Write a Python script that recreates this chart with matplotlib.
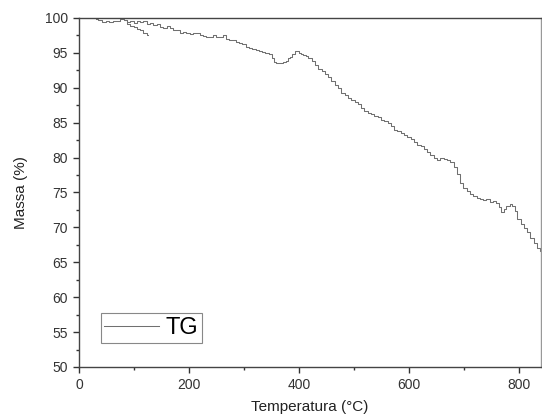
import numpy as np
import matplotlib
matplotlib.use('Agg')
import matplotlib.pyplot as plt
from matplotlib.ticker import MultipleLocator

plt.rcParams['font.family'] = ['Liberation Sans', 'DejaVu Sans']

# TG curve
temp = [30, 38, 45, 52, 58, 65, 72, 78, 84, 90, 96, 102, 108, 114, 120, 126,
        132, 138, 144, 150, 156, 162, 168, 174, 180, 186, 192, 198, 204, 210,
        216, 222, 228, 234, 240, 246, 252, 258, 264, 270, 276, 282, 288, 294,
        300, 306, 312, 318, 324, 330, 336, 342, 348, 352, 356, 362, 368, 374,
        378, 382, 386, 390, 394, 398, 402, 406, 410, 414, 420, 426, 432, 438,
        444, 450, 456, 462, 468, 474, 480, 486, 492, 498, 504, 510, 516, 522,
        528, 534, 540, 546, 552, 558, 564, 570, 576, 582, 588, 594, 600, 606,
        612, 618, 624, 630, 636, 642, 648, 654, 660, 666, 672, 678, 684, 690,
        696, 702, 708, 714, 720, 726, 732, 738, 744, 750, 756, 762, 766, 770,
        774, 778, 782, 786, 790, 794, 800, 806, 812, 818, 824, 830, 836, 840]
massa = [99.9, 99.7, 99.4, 99.6, 99.4, 99.6, 99.5, 99.8, 99.7, 99.4, 99.6,
         99.3, 99.6, 99.4, 99.6, 99.2, 99.3, 99.0, 99.1, 98.7, 98.5, 98.9,
         98.6, 98.3, 98.2, 97.9, 98.0, 97.8, 97.7, 97.9, 97.9, 97.6, 97.4,
         97.2, 97.3, 97.5, 97.2, 97.3, 97.5, 97.0, 96.8, 96.9, 96.6, 96.4,
         96.2, 95.9, 95.7, 95.6, 95.4, 95.3, 95.1, 95.0, 94.8, 94.2, 93.7,
         93.5, 93.6, 93.7, 93.9, 94.2, 94.4, 94.9, 95.2, 95.2, 95.0, 94.9,
         94.7, 94.6, 94.3, 93.8, 93.2, 92.7, 92.4, 91.9, 91.5, 91.0, 90.4,
         89.9, 89.3, 89.0, 88.6, 88.3, 88.0, 87.6, 87.1, 86.6, 86.4, 86.3,
         86.0, 85.8, 85.4, 85.3, 84.9, 84.5, 84.0, 83.8, 83.5, 83.2, 82.9,
         82.6, 82.2, 81.8, 81.6, 81.2, 80.8, 80.4, 79.9, 79.7, 79.9, 79.8,
         79.6, 79.4, 78.7, 77.6, 76.4, 75.6, 75.2, 74.8, 74.5, 74.2, 74.0,
         73.9, 74.0, 73.7, 73.8, 73.5, 72.9, 72.2, 72.6, 73.0, 73.1, 73.3,
         73.0, 72.4, 71.2, 70.5, 69.9, 69.3, 68.5, 67.8, 67.1, 66.6]

# short lower branch at the start of the run
temp_b = [84, 90, 96, 102, 108, 114, 120, 126]
massa_b = [99.7, 99.2, 98.9, 98.7, 98.4, 98.2, 97.9, 97.6]

fig = plt.figure(figsize=(5.42, 4.17), dpi=100)
ax = fig.add_axes([0.146, 0.12, 0.852, 0.837])

ax.plot(temp, massa, color='#707070', lw=0.75, drawstyle='steps-mid', label='TG')
ax.plot(temp_b, massa_b, color='#707070', lw=0.75, drawstyle='steps-mid')

ax.set_xlim(0, 840)
ax.set_ylim(50, 100)
ax.xaxis.set_major_locator(MultipleLocator(200))
ax.xaxis.set_minor_locator(MultipleLocator(100))
ax.yaxis.set_major_locator(MultipleLocator(5))
ax.yaxis.set_minor_locator(MultipleLocator(2.5))
ax.tick_params(which='both', direction='out', top=False, right=False,
               colors='#333333', labelsize=10)
ax.tick_params(which='major', length=4, width=1, pad=4)
ax.tick_params(which='minor', length=2.5, width=1)
for s in ax.spines.values():
    s.set_color('#444444')
    s.set_linewidth(1)
ax.spines['right'].set_color('#999999')

ax.set_xlabel('Temperatura (°C)', fontsize=11, color='#222222', labelpad=6)
ax.set_ylabel('Massa (%)', fontsize=11, color='#222222', labelpad=12)

leg = ax.legend(loc='lower left', bbox_to_anchor=(0.047, 0.07), fontsize=17,
                fancybox=False, framealpha=1, handlelength=2.3,
                borderpad=0.15, handletextpad=0.3, borderaxespad=0)
leg.get_frame().set_edgecolor('#888888')
leg.get_frame().set_linewidth(0.8)

fig.savefig('out.png', dpi=100)
